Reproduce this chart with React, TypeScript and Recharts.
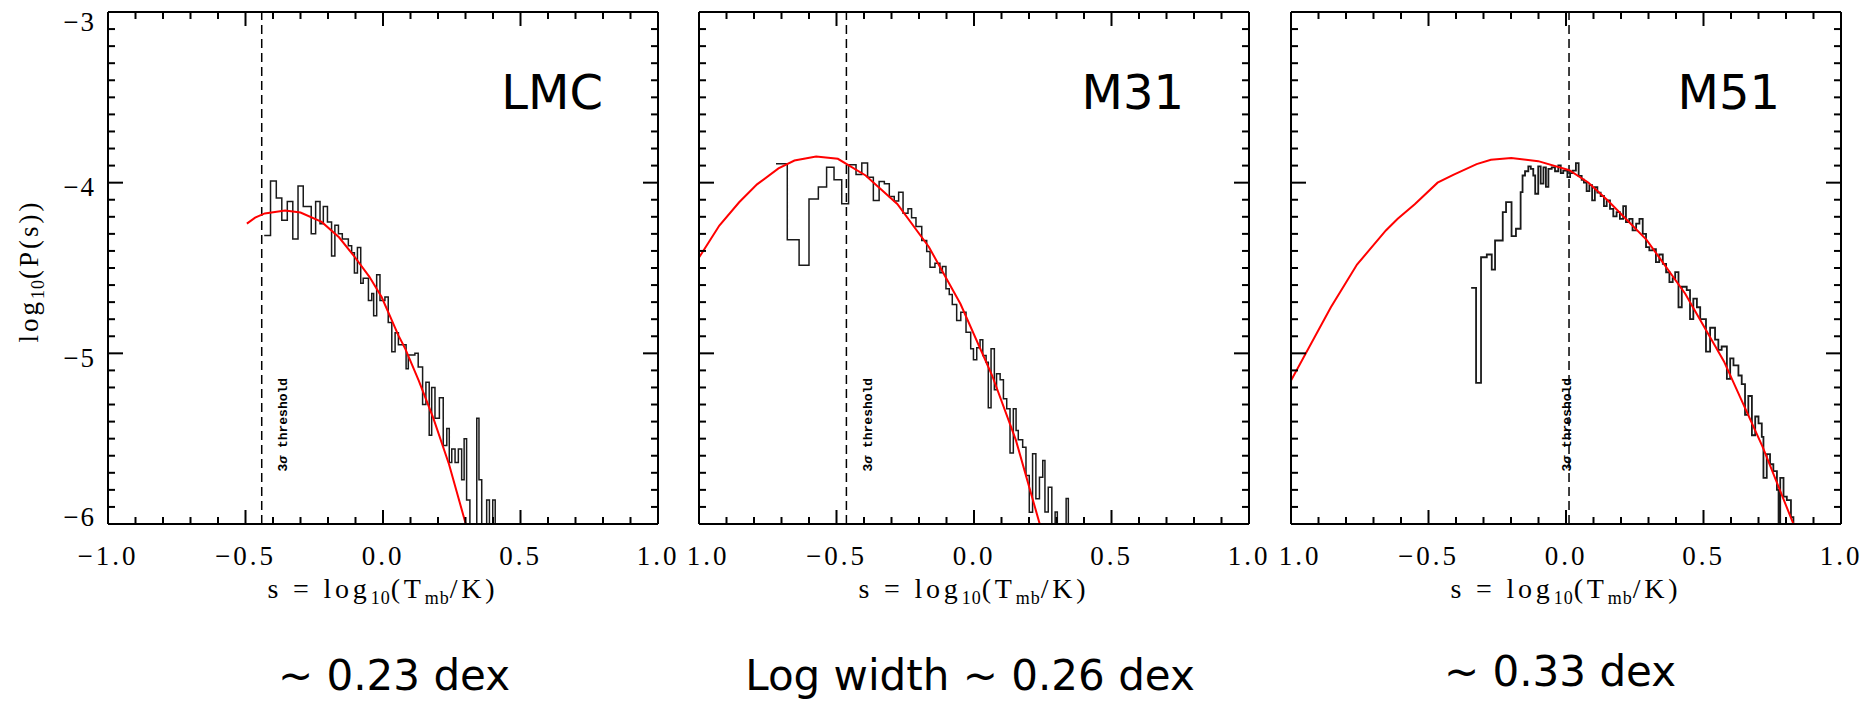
import React from "react";
import { LineChart, Line, XAxis, YAxis, ReferenceLine } from "recharts";

// axis ticks (minor every 0.1, majors get labels)
const xTicks = [-1, -0.9, -0.8, -0.7, -0.6, -0.5, -0.4, -0.3, -0.2, -0.1, 0, 0.1, 0.2, 0.3, 0.4, 0.5, 0.6, 0.7, 0.8, 0.9, 1];
const yTicks = [
  -6, -5.9, -5.8, -5.7, -5.6, -5.5, -5.4, -5.3, -5.2, -5.1, -5, -4.9, -4.8, -4.7, -4.6, -4.5, -4.4, -4.3, -4.2, -4.1,
  -4, -3.9, -3.8, -3.7, -3.6, -3.5, -3.4, -3.3, -3.2, -3.1, -3,
];

const panelNames = ["LMC", "M31", "M51"];
const captions = ["~ 0.23 dex", "Log width ~ 0.26 dex", "~ 0.33 dex"];
const thresholds = [-0.441, -0.464, 0.011];

// histograms: [bin start s, log10 P]
const lmcHist: [number, number][] = [
  [-0.432, -4.31], [-0.409, -3.99], [-0.388, -4.09], [-0.368, -4.22], [-0.348, -4.11], [-0.328, -4.33],
  [-0.309, -4.02], [-0.29, -4.14], [-0.261, -4.3], [-0.245, -4.11], [-0.229, -4.24], [-0.217, -4.14],
  [-0.202, -4.23], [-0.187, -4.43], [-0.175, -4.25], [-0.162, -4.3], [-0.148, -4.33], [-0.126, -4.37],
  [-0.114, -4.41], [-0.104, -4.53], [-0.093, -4.38], [-0.081, -4.59], [-0.072, -4.56], [-0.053, -4.69],
  [-0.041, -4.65], [-0.034, -4.78], [-0.023, -4.54], [-0.011, -4.69], [0.007, -4.67], [0.019, -4.82],
  [0.032, -4.99], [0.044, -4.88], [0.056, -4.95], [0.084, -5.09], [0.092, -5.01], [0.116, -5.0],
  [0.128, -5.08], [0.144, -5.3], [0.156, -5.17], [0.168, -5.48], [0.177, -5.2], [0.189, -5.38],
  [0.205, -5.26], [0.219, -5.54], [0.232, -5.44], [0.241, -5.64], [0.25, -5.56], [0.262, -5.64],
  [0.274, -5.56], [0.286, -5.74], [0.295, -5.5], [0.304, -5.86], [0.316, -6.3], [0.341, -5.38],
  [0.349, -5.74], [0.359, -6.3], [0.377, -5.86], [0.387, -6.3], [0.399, -5.86], [0.408, -6.3], [0.42, -6.3],
];
const m31Hist: [number, number][] = [
  [-0.72, -3.889], [-0.679, -4.335], [-0.636, -4.484], [-0.6, -4.095], [-0.566, -4.025], [-0.536, -3.909],
  [-0.509, -3.983], [-0.481, -4.124], [-0.456, -3.895], [-0.429, -3.952], [-0.408, -3.885], [-0.387, -3.968],
  [-0.366, -4.104], [-0.345, -3.993], [-0.326, -4.007], [-0.308, -4.081], [-0.29, -4.108], [-0.274, -4.056],
  [-0.258, -4.179], [-0.24, -4.153], [-0.227, -4.206], [-0.211, -4.257], [-0.19, -4.339], [-0.172, -4.403],
  [-0.16, -4.495], [-0.142, -4.472], [-0.124, -4.528], [-0.115, -4.491], [-0.102, -4.622], [-0.09, -4.655],
  [-0.079, -4.714], [-0.063, -4.808], [-0.048, -4.76], [-0.029, -4.876], [-0.012, -4.973], [-0.002, -5.038],
  [0.01, -4.968], [0.022, -4.921], [0.032, -5.013], [0.044, -5.052], [0.052, -5.319], [0.062, -4.973],
  [0.074, -5.214], [0.082, -5.12], [0.095, -5.155], [0.107, -5.266], [0.119, -5.325], [0.131, -5.584],
  [0.143, -5.325], [0.153, -5.452], [0.161, -5.507], [0.177, -5.55], [0.189, -5.716], [0.201, -5.931],
  [0.213, -5.588], [0.225, -5.852], [0.238, -5.726], [0.25, -5.628], [0.258, -5.93], [0.27, -5.784],
  [0.283, -6.3], [0.295, -5.93], [0.303, -6.3], [0.335, -5.85], [0.343, -6.3], [0.36, -6.3],
];
const m51Hist: [number, number][] = [
  [-0.345, -4.616], [-0.327, -5.173], [-0.309, -4.437], [-0.288, -4.421], [-0.27, -4.509], [-0.258, -4.339],
  [-0.23, -4.173], [-0.218, -4.114], [-0.198, -4.313], [-0.182, -4.27], [-0.165, -4.055], [-0.158, -3.958],
  [-0.149, -3.933], [-0.137, -3.905], [-0.128, -3.919], [-0.119, -3.958], [-0.112, -4.065], [-0.101, -3.905],
  [-0.092, -4.006], [-0.082, -3.91], [-0.073, -4.025], [-0.064, -3.919], [-0.052, -3.91], [-0.04, -3.933],
  [-0.028, -3.899], [-0.019, -3.944], [-0.01, -3.93], [0.005, -3.968], [0.015, -3.944], [0.024, -3.93],
  [0.036, -3.885], [0.046, -3.96], [0.057, -3.983], [0.065, -4.0], [0.075, -4.05], [0.085, -4.014],
  [0.095, -4.104], [0.105, -4.026], [0.114, -4.058], [0.126, -4.078], [0.138, -4.138], [0.148, -4.104],
  [0.16, -4.153], [0.172, -4.198], [0.184, -4.173], [0.196, -4.212], [0.208, -4.138], [0.218, -4.231],
  [0.23, -4.212], [0.242, -4.28], [0.255, -4.24], [0.267, -4.212], [0.279, -4.3], [0.291, -4.378],
  [0.303, -4.397], [0.315, -4.39], [0.327, -4.466], [0.339, -4.421], [0.352, -4.476], [0.364, -4.525],
  [0.376, -4.583], [0.388, -4.56], [0.397, -4.524], [0.409, -4.73], [0.421, -4.61], [0.439, -4.63],
  [0.451, -4.8], [0.463, -4.68], [0.476, -4.73], [0.488, -4.8], [0.5, -4.8], [0.509, -4.99],
  [0.524, -4.85], [0.542, -4.92], [0.554, -4.98], [0.566, -4.96], [0.585, -5.15], [0.597, -5.03],
  [0.609, -5.07], [0.627, -5.13], [0.639, -5.18], [0.651, -5.36], [0.663, -5.25], [0.676, -5.48],
  [0.688, -5.37], [0.7, -5.41], [0.712, -5.49], [0.718, -5.73], [0.73, -5.59], [0.742, -5.65],
  [0.754, -5.69], [0.767, -5.8], [0.773, -6.3], [0.779, -5.73], [0.791, -5.84], [0.803, -5.86],
  [0.818, -5.96], [0.827, -6.3], [0.84, -6.3],
];

// lognormal fits (red)
const lmcFit: [number, number][] = [
  [-0.495, -4.24], [-0.465, -4.205], [-0.43, -4.18], [-0.356, -4.163], [-0.3, -4.175], [-0.223, -4.23],
  [-0.16, -4.32], [-0.102, -4.437], [-0.05, -4.55], [-0.005, -4.67], [0.056, -4.895], [0.08, -4.97],
  [0.13, -5.16], [0.183, -5.38], [0.24, -5.65], [0.301, -6.0],
];
const m31Fit: [number, number][] = [
  [-1.0, -4.439], [-0.926, -4.251], [-0.854, -4.115], [-0.789, -4.01], [-0.711, -3.916], [-0.653, -3.87],
  [-0.574, -3.847], [-0.495, -3.86], [-0.394, -3.958], [-0.279, -4.125], [-0.164, -4.377], [-0.049, -4.711],
  [0.066, -5.13], [0.152, -5.507], [0.239, -6.0],
];
const m51Fit: [number, number][] = [
  [-1.0, -5.16], [-0.855, -4.73], [-0.76, -4.48], [-0.655, -4.28], [-0.612, -4.212], [-0.55, -4.126],
  [-0.467, -4.0], [-0.41, -3.954], [-0.325, -3.891], [-0.273, -3.866], [-0.199, -3.855], [-0.101, -3.874],
  [0.012, -3.927], [0.082, -4.0], [0.152, -4.105], [0.293, -4.335], [0.433, -4.649], [0.574, -5.046],
  [0.715, -5.548], [0.827, -6.0],
];

const hists = [lmcHist, m31Hist, m51Hist];
const fits = [lmcFit, m31Fit, m51Fit];
const histWidths = [1.5, 1.5, 1.8];

const PLOT_LEFTS = [108, 699, 1291];
const PLOT_W = 550;
const PLOT_H = 512;
const TOP = 12;
const AX = 1; // thickness reserved by each axis box
const M = { top: TOP - AX, left: 100 - AX, right: 40 - AX, bottom: 60 - AX };

const SERIF = "'Liberation Serif', 'DejaVu Serif', serif";
const SANS = "'DejaVu Sans', 'Open Sans', sans-serif";

const toPts = (arr: [number, number][]) => arr.map(([s, p]) => ({ s, p }));
const isMajorX = (v: number) => Math.abs(v * 2 - Math.round(v * 2)) < 1e-6;
const isMajorY = (v: number) => Math.abs(v - Math.round(v)) < 1e-6;

function BottomTick(props: any) {
  const { x, y, payload, dropMinus } = props;
  const v: number = payload.value;
  const major = isMajorX(v);
  const txt = Math.abs(v).toFixed(1);
  // the left "−1.0" of the 2nd and 3rd panel only shows its digits in the original
  const lost = dropMinus && v < -0.99;
  return (
    <g>
      <line x1={x} x2={x} y1={y} y2={y - (major ? 14 : 7)} stroke="#000" strokeWidth={2} />
      {major && (
        <text x={lost ? x + 9 : x} y={y + 41} textAnchor="middle" fontFamily={SERIF} fontSize={27} letterSpacing={3} fill="#000">
          {v < -1e-9 && !lost ? "−" : ""}
          {txt}
        </text>
      )}
    </g>
  );
}

function TopTick(props: any) {
  const { x, y, payload } = props;
  const major = isMajorX(payload.value);
  return <line x1={x} x2={x} y1={y} y2={y + (major ? 14 : 7)} stroke="#000" strokeWidth={2} />;
}

function LeftTick(props: any) {
  const { x, y, payload, showLabel } = props;
  const v: number = payload.value;
  const major = isMajorY(v);
  const cy = Math.min(Math.max(y + 4, 22), 517);
  return (
    <g>
      <line x1={x} x2={x + (major ? 15 : 7)} y1={y} y2={y} stroke="#000" strokeWidth={2} />
      {showLabel && major && (
        <text x={x - 12} y={cy} dy="0.35em" textAnchor="end" fontFamily={SERIF} fontSize={27} letterSpacing={2} fill="#000">
          {"−" + Math.abs(v).toFixed(0)}
        </text>
      )}
    </g>
  );
}

function RightTick(props: any) {
  const { x, y, payload } = props;
  const major = isMajorY(payload.value);
  return <line x1={x} x2={x - (major ? 15 : 7)} y1={y} y2={y} stroke="#000" strokeWidth={2} />;
}

function ThresholdLabel(props: any) {
  const { viewBox, shift } = props;
  if (!viewBox) return null;
  const tx = viewBox.x + shift;
  const ty = viewBox.y + viewBox.height * 0.806;
  return (
    <text
      x={tx}
      y={ty}
      transform={`rotate(-90 ${tx} ${ty})`}
      textAnchor="middle"
      dy="0.35em"
      fontFamily="'Liberation Mono', 'DejaVu Sans Mono', monospace"
      fontSize={13}
      fontWeight="bold"
      fill="#000"
    >
      3<tspan fontStyle="italic">σ</tspan> threshold
    </text>
  );
}

const axisLine = { stroke: "#000", strokeWidth: 2 };

function Panel({ i }: { i: number }) {
  const left = PLOT_LEFTS[i];
  return (
    <div style={{ position: "absolute", left: left - 100, top: 0 }}>
      <LineChart width={PLOT_W + 140} height={PLOT_H + TOP + 60} margin={M} style={{ overflow: "visible" }}>
        <XAxis
          xAxisId="b"
          dataKey="s"
          type="number"
          domain={[-1, 1]}
          allowDataOverflow
          ticks={xTicks}
          interval={0}
          height={AX}
          tickSize={0}
          tickMargin={0}
          tickLine={false}
          axisLine={axisLine}
          tick={<BottomTick dropMinus={i > 0} />}
        />
        <XAxis
          xAxisId="t"
          orientation="top"
          dataKey="s"
          type="number"
          domain={[-1, 1]}
          allowDataOverflow
          ticks={xTicks}
          interval={0}
          height={AX}
          tickSize={0}
          tickMargin={0}
          tickLine={false}
          axisLine={axisLine}
          tick={<TopTick />}
        />
        <YAxis
          yAxisId="l"
          type="number"
          domain={[-6, -3]}
          allowDataOverflow
          ticks={yTicks}
          interval={0}
          width={AX}
          tickSize={0}
          tickMargin={0}
          tickLine={false}
          axisLine={axisLine}
          tick={<LeftTick showLabel={i === 0} />}
        />
        <YAxis
          yAxisId="r"
          orientation="right"
          type="number"
          domain={[-6, -3]}
          allowDataOverflow
          ticks={yTicks}
          interval={0}
          width={AX}
          tickSize={0}
          tickMargin={0}
          tickLine={false}
          axisLine={axisLine}
          tick={<RightTick />}
        />
        <ReferenceLine
          xAxisId="b"
          yAxisId="l"
          x={thresholds[i]}
          stroke="#000"
          strokeWidth={1.5}
          strokeDasharray="9 5"
          label={<ThresholdLabel shift={i === 2 ? -3 : 21} />}
        />
        <Line
          xAxisId="b"
          yAxisId="l"
          data={toPts(hists[i])}
          dataKey="p"
          type="stepAfter"
          stroke="#1a1a1a"
          strokeWidth={histWidths[i]}
          dot={false}
          isAnimationActive={false}
        />
        <Line
          xAxisId="t"
          yAxisId="r"
          data={toPts(fits[i])}
          dataKey="p"
          type="linear"
          stroke="#ff0000"
          strokeWidth={2}
          dot={false}
          isAnimationActive={false}
        />
      </LineChart>
    </div>
  );
}

const nameRight = [603, 1184, 1780];
const captionCenter = [394, 970, 1560];
const captionBase = [690, 690, 686];

export default function App() {
  return (
    <div style={{ position: "absolute", left: 0, top: 0, width: 1866, height: 701, background: "#fff", overflow: "hidden" }}>
      {[0, 1, 2].map((i) => (
        <Panel key={i} i={i} />
      ))}
      <svg width={1866} height={701} style={{ position: "absolute", left: 0, top: 0, pointerEvents: "none" }}>
        {panelNames.map((n, i) => (
          <text key={n} x={nameRight[i]} y={109} textAnchor="end" fontFamily={SANS} fontSize={48} fill="#000">
            {n}
          </text>
        ))}
        {PLOT_LEFTS.map((l, i) => (
          <text key={"t" + i} x={l + PLOT_W / 2} y={598} textAnchor="middle" fontFamily={SERIF} fontSize={28} letterSpacing={3.8} fill="#000">
            s = log
            <tspan dy={6} fontSize={18} letterSpacing={1}>10</tspan>
            <tspan dy={-6}>(T</tspan>
            <tspan dy={6} fontSize={18} letterSpacing={1}>mb</tspan>
            <tspan dy={-6}>/K)</tspan>
          </text>
        ))}
        <text x={29} y={271} transform="rotate(-90 29 271)" textAnchor="middle" dy="0.35em" fontFamily={SERIF} fontSize={27} letterSpacing={3} fill="#000">
          log
          <tspan dy={6} fontSize={18} letterSpacing={1}>10</tspan>
          <tspan dy={-6}>(P(s))</tspan>
        </text>
        {captions.map((c, i) => (
          <text key={c} x={captionCenter[i]} y={captionBase[i]} textAnchor="middle" fontFamily={SANS} fontSize={42} fill="#000">
            {c}
          </text>
        ))}
      </svg>
    </div>
  );
}
